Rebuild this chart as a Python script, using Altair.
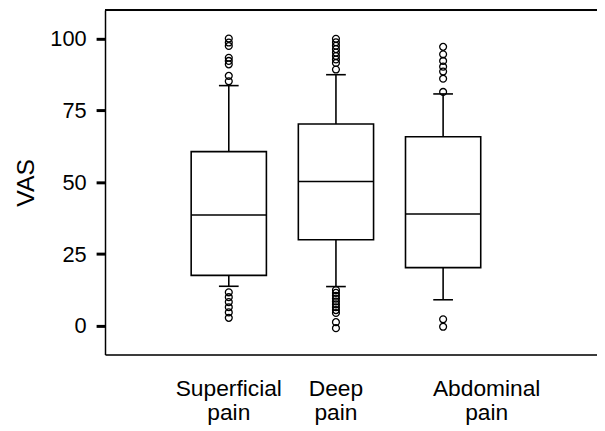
import altair as alt
import pandas as pd

categories = ["Superficial pain", "Deep pain", "Abdominal pain"]
q1 = [17.6, 30.0, 20.3]
median = [38.6, 50.3, 39.0]
q3 = [60.7, 70.3, 65.9]
whisker_low = [13.8, 13.7, 9.1]
whisker_high = [83.7, 87.5, 80.8]
outliers = [
    [100.1, 98.7, 97.5, 93.4, 92.3, 91.1, 87.1, 85.2, 11.7, 10.0, 8.3, 6.5, 4.7, 2.8],
    [100.0, 98.8, 97.6, 96.4, 95.2, 94.0, 92.8, 91.6, 89.3,
     12.5, 11.5, 10.5, 9.5, 8.5, 7.5, 6.5, 5.5, 4.5, 1.3, -0.8],
    [97.2, 94.6, 92.3, 90.3, 88.6, 86.1, 81.5, 2.3, -0.3],
]
y_ticks = [0, 25, 50, 75, 100]

W, H = 497, 348
FONT = "Liberation Sans"

stats = pd.DataFrame({
    "idx": list(range(len(categories))),
    "category": categories,
    "q1": q1, "median": median, "q3": q3,
    "lo": whisker_low, "hi": whisker_high,
})
out_df = pd.DataFrame([
    {"idx": i, "category": categories[i], "value": v}
    for i, vals in enumerate(outliers) for v in vals
])

xscale = alt.Scale(domain=[-1.155, 3.436], nice=False, zero=False)
yscale = alt.Scale(domain=[-10, 110], nice=False, zero=False)

base = alt.Chart(stats).transform_calculate(
    bx0="datum.idx - 0.351", bx1="datum.idx + 0.351",
    cx0="datum.idx - 0.092", cx1="datum.idx + 0.092",
)

xax = alt.X("idx:Q", scale=xscale, axis=alt.Axis(
    labels=False, ticks=False, grid=False, title=None,
    domainColor="black", domainWidth=1.5))

whisk = base.mark_rule(color="black", strokeWidth=1.6).encode(
    x=xax,
    y=alt.Y("lo:Q", scale=yscale, axis=alt.Axis(
        values=y_ticks, grid=False, title="VAS",
        domainColor="black", domainWidth=1.5,
        tickColor="black", tickWidth=3, tickSize=9,
        labelFont=FONT, labelFontSize=22, labelColor="black", labelPadding=10,
        titleFont=FONT, titleFontSize=25, titleFontWeight="normal",
        titleColor="black", titlePadding=12)),
    y2="hi:Q",
)

box = base.mark_bar(fill="white", stroke="black", strokeWidth=1.6).encode(
    x=alt.X("bx0:Q", scale=xscale), x2="bx1:Q",
    y=alt.Y("q1:Q", scale=yscale), y2="q3:Q",
)

med = base.mark_rule(color="black", strokeWidth=1.6).encode(
    x=alt.X("bx0:Q", scale=xscale), x2="bx1:Q",
    y=alt.Y("median:Q", scale=yscale),
)

cap_lo = base.mark_rule(color="black", strokeWidth=1.6).encode(
    x=alt.X("cx0:Q", scale=xscale), x2="cx1:Q",
    y=alt.Y("lo:Q", scale=yscale),
)
cap_hi = base.mark_rule(color="black", strokeWidth=1.6).encode(
    x=alt.X("cx0:Q", scale=xscale), x2="cx1:Q",
    y=alt.Y("hi:Q", scale=yscale),
)

pts = alt.Chart(out_df).mark_point(
    shape="circle", filled=False, color="black", size=48, strokeWidth=1.3, opacity=1
).encode(
    x=alt.X("idx:Q", scale=xscale),
    y=alt.Y("value:Q", scale=yscale),
)

label_style = dict(font=FONT, fontSize=23, color="black", baseline="top",
                   align="center", lineBreak=" ", lineHeight=24)
label_enc = dict(x=alt.X("idx:Q", scale=xscale), y=alt.value(H + 24),
                 text="category:N")

labels_a = alt.Chart(stats).transform_filter("datum.idx < 2").mark_text(
    **label_style).encode(**label_enc)
labels_b = alt.Chart(stats).transform_filter("datum.idx == 2").mark_text(
    dx=44, **label_style).encode(**label_enc)

top_line = alt.Chart(stats).mark_rule(color="black", strokeWidth=1.5).encode(
    x=alt.value(0), x2=alt.value(W), y=alt.value(0)
)

chart = alt.layer(whisk, box, med, cap_lo, cap_hi, pts, labels_a, labels_b,
                  top_line).properties(
    width=W, height=H,
    autosize=alt.AutoSizeParams(type="none"),
    padding={"left": 98, "top": 0, "right": 0, "bottom": 70},
).configure_view(stroke=None).configure(background="white")

chart.save("out.html", embed_options={"renderer": "svg", "actions": False})
